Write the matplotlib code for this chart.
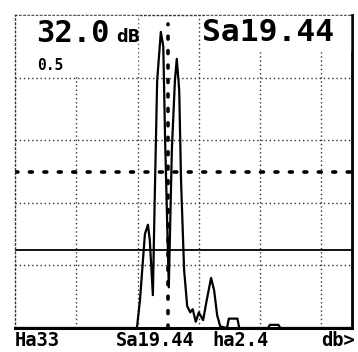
import matplotlib.pyplot as plt
from matplotlib.patches import Rectangle

# A-scan echo trace: sound path (mm) vs amplitude (% screen height)
path_mm = [0, 19.9, 20.4, 21.2, 21.7, 22.0, 22.5, 22.8, 23.2, 23.8, 24.2, 24.5,
           25.1, 25.6, 26.1, 26.4, 26.8, 27.1, 27.6, 28.1, 28.6, 29.0, 29.5,
           30.0, 30.7, 31.3, 32.0, 32.5, 33.0, 33.5, 34.6, 34.9, 36.3, 36.6,
           41.3, 41.6, 43.0, 43.3, 55]
amp_pct = [0, 0, 9, 30, 33, 28, 10.5, 41, 79, 94.6, 90, 60,
           13, 57, 79, 86, 76, 47, 18.5, 7, 5, 6, 2,
           5, 2.5, 9, 16, 12, 4, 0.5, 0, 3, 3, 0,
           0, 1, 1, 0, 0]

grid_x = [10, 20, 30, 40, 50]
grid_y = [20, 40, 60, 80]
gate_level = 50
gate_pos = 25
ref_level = 25

gain_db = "32.0"
step_db = "0.5"
sound_path = "Sa19.44"
bottom_labels = ["Ha33", "Sa19.44", "ha2.4", "db>"]

fig = plt.figure(figsize=(3.58, 3.52), dpi=100)
ax = fig.add_axes([15/358, 24/352, 337/358, 313/352])
ax.set_xlim(0, 55)
ax.set_ylim(0, 100)
ax.set_xticks([])
ax.set_yticks([])

# dotted graticule
for gx in grid_x:
    ax.axvline(gx, color="#333333", lw=1, ls=(0, (1, 2)), zorder=1)
for gy in grid_y:
    ax.axhline(gy, color="#333333", lw=1, ls=(0, (1, 2)), zorder=1)

# gate and reference lines
ax.axhline(gate_level, color="black", lw=2.6, ls=(0, (0.8, 3.2)),
           dash_capstyle="round", zorder=2)
ax.plot([gate_pos, gate_pos], [0, 97], color="black", lw=2.6,
        ls=(0, (0.8, 3.2)), dash_capstyle="round", zorder=2)
ax.axhline(ref_level, color="black", lw=1.3, zorder=2)

# echo
ax.plot(path_mm, amp_pct, color="black", lw=1.6, zorder=3)

# white panels behind the readouts
ax.add_patch(Rectangle((0.3, 81), 19.6, 18.6, color="white", zorder=4))
ax.add_patch(Rectangle((30.8, 88.5), 23.8, 11.1, color="white", zorder=4))

mono = "DejaVu Sans Mono"
ax.text(3.5, 91.4, gain_db, fontsize=22, fontweight="bold", family=mono,
        va="baseline", ha="left", zorder=5)
ax.text(16.6, 91.4, "dB", fontsize=13, fontweight="bold", family="DejaVu Sans",
        fontstretch="condensed", va="baseline", ha="left", zorder=5)
ax.text(3.6, 86.3, step_db, fontsize=10.5, fontweight="bold", family=mono,
        va="top", ha="left", zorder=5)
ax.text(30.6, 99.0, sound_path, fontsize=22.5, fontweight="bold", family=mono,
        va="top", ha="left", zorder=5)

# borders: dotted left/top, solid right/bottom
for side in ["left", "top"]:
    ax.spines[side].set_linestyle((0, (1, 2)))
    ax.spines[side].set_linewidth(1)
    ax.spines[side].set_color("#333333")
ax.spines["right"].set_linewidth(2)
ax.spines["bottom"].set_linewidth(2.2)

# status line under the screen
label_x = [15, 116, 212, 321]
for lx, lab in zip(label_x, bottom_labels):
    fig.text(lx / 358, 1 - 341 / 352, lab, fontsize=13.5, fontweight="bold",
             family=mono, va="center", ha="left")

fig.savefig("out.png", dpi=100)
